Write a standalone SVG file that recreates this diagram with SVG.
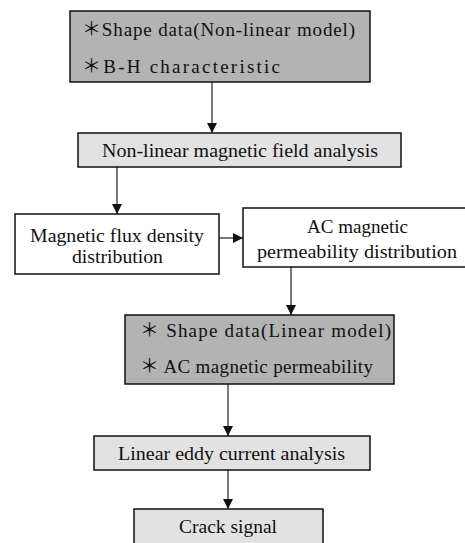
<svg xmlns="http://www.w3.org/2000/svg" width="465" height="543" viewBox="0 0 465 543">
<defs>
<style>
.box{stroke:#111;stroke-width:1.5}
.dark{fill:#b3b3b3}
.light{fill:#e2e2e2}
.white{fill:#fff}
.t{font-family:"Liberation Serif","Times New Roman","Noto Sans CJK SC",serif;font-size:19px;fill:#111}
.conn{stroke:#222;stroke-width:1.2;fill:none}
</style>
<marker id="ah" viewBox="0 0 10 10" refX="10" refY="5" markerWidth="10" markerHeight="10" markerUnits="userSpaceOnUse" orient="auto">
<path d="M0,0 L10,5 L0,10 Z" fill="#111"/>
</marker>
</defs>
<rect width="465" height="543" fill="#fff"/>
<g id="connectors">
<line class="conn" x1="212" y1="82" x2="212" y2="133" marker-end="url(#ah)"/>
<line class="conn" x1="117" y1="167" x2="117" y2="214" marker-end="url(#ah)"/>
<line class="conn" x1="219" y1="238" x2="243" y2="238" marker-end="url(#ah)"/>
<line class="conn" x1="291" y1="267" x2="291" y2="315" marker-end="url(#ah)"/>
<line class="conn" x1="228" y1="384" x2="228" y2="436" marker-end="url(#ah)"/>
<line class="conn" x1="228" y1="470" x2="228" y2="509" marker-end="url(#ah)"/>
</g>
<g id="n1">
<rect class="box dark" x="70" y="11" width="300" height="71"/>
<text class="t" x="82" y="36" textLength="273" lengthAdjust="spacing">＊Shape data(Non-linear model)</text>
<text class="t" x="82" y="73" textLength="198" lengthAdjust="spacing">＊B-H characteristic</text>
</g>
<g id="n2">
<rect class="box light" x="78" y="133" width="323" height="34"/>
<text class="t" x="102" y="157" textLength="276" lengthAdjust="spacingAndGlyphs">Non-linear magnetic field analysis</text>
</g>
<g id="n3">
<rect class="box white" x="15" y="214" width="204" height="60"/>
<text class="t" x="30" y="242" textLength="174" lengthAdjust="spacingAndGlyphs">Magnetic flux density</text>
<text class="t" x="72" y="263" textLength="91" lengthAdjust="spacingAndGlyphs">distribution</text>
</g>
<g id="n4">
<rect class="box white" x="243" y="208" width="224" height="59"/>
<text class="t" x="307" y="233" textLength="101" lengthAdjust="spacingAndGlyphs">AC magnetic</text>
<text class="t" x="257" y="258" textLength="200" lengthAdjust="spacingAndGlyphs">permeability distribution</text>
</g>
<g id="n5">
<rect class="box dark" x="125" y="315" width="269" height="69"/>
<text class="t" x="140" y="337" textLength="251" lengthAdjust="spacing">＊ Shape data(Linear model)</text>
<text class="t" x="140" y="373" textLength="233" lengthAdjust="spacing">＊ AC magnetic permeability</text>
</g>
<g id="n6">
<rect class="box light" x="94" y="436" width="276" height="34"/>
<text class="t" x="118" y="460" textLength="227" lengthAdjust="spacingAndGlyphs">Linear eddy current analysis</text>
</g>
<g id="n7">
<rect class="box light" x="134" y="509" width="189" height="40"/>
<text class="t" x="179" y="533" textLength="98" lengthAdjust="spacingAndGlyphs">Crack signal</text>
</g>
</svg>
